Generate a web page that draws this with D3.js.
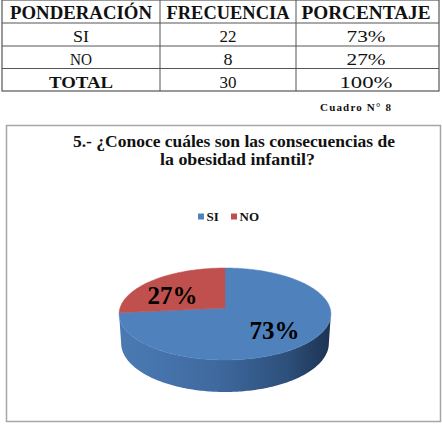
<!DOCTYPE html>
<html><head><meta charset="utf-8">
<script src="https://cdn.jsdelivr.net/npm/d3@7"></script>
<style>html,body{margin:0;padding:0;background:#fff;}svg{display:block;}</style>
</head><body>
<script>
const headers = ["PONDERACIÓN", "FRECUENCIA", "PORCENTAJE"];
const categories = ["SI", "NO"];
const frecuencia = [22, 8];
const porcentaje = ["73%", "27%"];
const totalLabel = "TOTAL";
const totalFrecuencia = 30;
const totalPorcentaje = "100%";
const caption = "Cuadro N° 8";
const titleLines = ["5.- ¿Conoce cuáles son las consecuencias de", "la obesidad infantil?"];
const sliceColors = ["#4f81bd", "#c0504d"];

const W = 442, H = 436;
const svg = d3.select("body").append("svg").attr("width", W).attr("height", H);
function txt(g) {
  return g.append("text").style("font-family", '"Liberation Serif"');
}

// ---------- Table ----------
const colX = [2, 160, 296, 439];
const rowY = [0, 23, 46, 68.5, 91];
const tg = svg.append("g");
tg.append("rect").attr("x", colX[0]).attr("y", rowY[0]).attr("width", colX[3]-colX[0]).attr("height", rowY[4]-rowY[0])
  .attr("fill", "none").attr("stroke", "#555").attr("stroke-width", 1.2);
rowY.slice(1, 4).forEach(y => tg.append("line").attr("x1", colX[0]).attr("x2", colX[3]).attr("y1", y).attr("y2", y).attr("stroke", "#555").attr("stroke-width", 1));
colX.slice(1, 3).forEach(x => tg.append("line").attr("x1", x).attr("x2", x).attr("y1", rowY[0]).attr("y2", rowY[4]).attr("stroke", "#555").attr("stroke-width", 1));
const colC = [81, 228, 366];
const headerW = [142, 123, 129];
headers.forEach((h, i) => {
  txt(tg).attr("x", colC[i]).attr("y", 18.5).attr("text-anchor", "middle")
    .attr("font-weight", "bold").attr("font-size", 18)
    .attr("textLength", headerW[i]).attr("lengthAdjust", "spacingAndGlyphs").attr("fill", "#111").text(h);
});
const rows = categories.map((c, i) => [c, String(frecuencia[i]), porcentaje[i]]);
const rowBase = [41.5, 64.5];
const valW = [[16, 17, 39], [22, 9, 39]];
rows.forEach((r, ri) => {
  r.forEach((t, ci) => {
    txt(tg).attr("x", colC[ci]).attr("y", rowBase[ri]).attr("text-anchor", "middle")
      .attr("font-size", 16.5).attr("textLength", valW[ri][ci]).attr("lengthAdjust", "spacingAndGlyphs")
      .attr("fill", "#111").text(t);
  });
});
const totW = [64, 17, 53];
[totalLabel, String(totalFrecuencia), totalPorcentaje].forEach((t, ci) => {
  const el = txt(tg).attr("x", colC[ci]).attr("y", 87.5).attr("text-anchor", "middle")
    .attr("font-size", 16.5).attr("textLength", totW[ci]).attr("lengthAdjust", "spacingAndGlyphs")
    .attr("fill", "#111").text(t);
  if (ci === 0) el.attr("font-weight", "bold");
});

// caption
txt(svg).attr("x", 320).attr("y", 111).attr("font-weight", "bold")
  .attr("font-size", 11).attr("textLength", 71).attr("lengthAdjust", "spacing").attr("fill", "#111").text(caption);

// ---------- Chart box ----------
svg.append("rect").attr("x", 6.5).attr("y", 125.5).attr("width", 434).attr("height", 296)
  .attr("fill", "#fff").attr("stroke", "#a6a6a6").attr("stroke-width", 1.5);

// title
const titleBase = [146.5, 164.5];
const titleW = [322, 155];
titleLines.forEach((t, i) => {
  txt(svg).attr("x", i === 0 ? 234 : 237.5).attr("y", titleBase[i]).attr("text-anchor", "middle")
    .attr("font-weight", "bold").attr("font-size", 16)
    .attr("textLength", titleW[i]).attr("lengthAdjust", "spacingAndGlyphs").attr("fill", "#111").text(t);
});

// legend
const legX = [198, 231];
categories.forEach((c, i) => {
  svg.append("rect").attr("x", legX[i]).attr("y", 213.5).attr("width", 6).attr("height", 6).attr("fill", sliceColors[i]);
  txt(svg).attr("x", legX[i] + 8.5).attr("y", 221).attr("font-weight", "bold")
    .attr("font-size", 13).attr("fill", "#111").text(c);
});

// ---------- 3D pie ----------
const cx = 225, cy0 = 308;
const phi = Math.asin(0.4306), sP = Math.sin(phi), cP = Math.cos(phi);
const Ld = 6.92, f = 726.6, depth = 0.311;
function proj(theta, yW, r) {
  const x = r * Math.sin(theta), z = r * Math.cos(theta);
  const Yv = yW * cP + z * sP;
  const D = Ld + z * cP - yW * sP;
  return [cx + f * x / D, cy0 - f * Yv / D];
}
function arcPts(a0, a1, yW) {
  const pts = [];
  const steps = Math.max(2, Math.ceil(Math.abs(a1 - a0) / (Math.PI / 180)));
  for (let k = 0; k <= steps; k++) pts.push(proj(a0 + (a1 - a0) * k / steps, yW, 1));
  return pts;
}
const line = d3.line();
const arcs = d3.pie().sort(null).value(d => d)(frecuencia);

const thR = Math.acos(-cP / Ld), thL = 2 * Math.PI - thR;

const defs = svg.append("defs");
const gradDefs = [
  {id: "sideBlue", stops: [["0%", "#4b7ab3"], ["45%", "#3f6aa0"], ["80%", "#2d4f7a"], ["100%", "#1d3352"]]},
  {id: "sideRed", stops: [["0%", "#b04a47"], ["100%", "#6e2b29"]]}
];
gradDefs.forEach(g => {
  const lg = defs.append("linearGradient").attr("id", g.id).attr("gradientUnits", "userSpaceOnUse")
    .attr("x1", 120).attr("x2", 330).attr("y1", 0).attr("y2", 0);
  g.stops.forEach(s => lg.append("stop").attr("offset", s[0]).attr("stop-color", s[1]));
});

const pg = svg.append("g");
arcs.forEach((a, i) => {
  const s0 = Math.max(a.startAngle, thR), s1 = Math.min(a.endAngle, thL);
  if (s1 <= s0) return;
  const pts = arcPts(s0, s1, 0).concat(arcPts(s1, s0, -depth));
  pg.append("path").attr("d", line(pts) + "Z").attr("fill", i === 0 ? "url(#sideBlue)" : "url(#sideRed)");
});
arcs.forEach((a, i) => {
  const pts = [proj(0, 0, 0)].concat(arcPts(a.startAngle, a.endAngle, 0));
  pg.append("path").attr("d", line(pts) + "Z").attr("fill", sliceColors[i])
    .attr("stroke", sliceColors[i]).attr("stroke-width", 0.5);
});
const labelOff = [[0, 6], [-8, 8]];
arcs.forEach((a, i) => {
  const m = (a.startAngle + a.endAngle) / 2;
  const p = proj(m, 0, 0.6);
  txt(pg).attr("x", p[0] + labelOff[i][0]).attr("y", p[1] + labelOff[i][1]).attr("text-anchor", "middle")
    .attr("dominant-baseline", "middle").attr("font-weight", "bold")
    .attr("font-size", 25).attr("fill", "#000").text(porcentaje[i]);
});
</script>
</body></html>
